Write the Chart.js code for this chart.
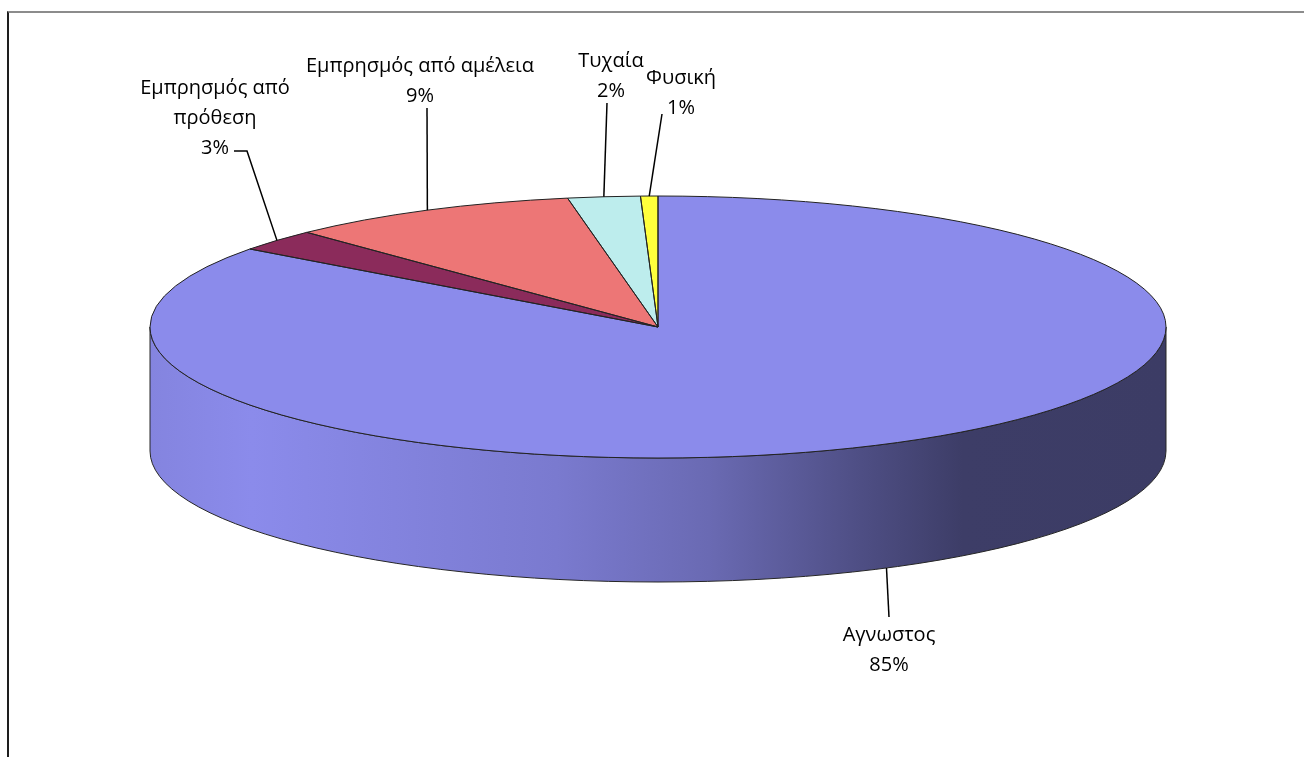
<!DOCTYPE html>
<html>
<head>
<meta charset="utf-8">
<title>Αιτίες πυρκαγιών</title>
<script src="https://cdn.jsdelivr.net/npm/chart.js@4.4.1/dist/chart.umd.min.js"></script>
<style>
  html, body { margin: 0; padding: 0; background: #fff; }
  #wrap { position: relative; width: 1304px; height: 757px; overflow: hidden; }
  #frame { position: absolute; left: 7px; top: 11px; right: -10px; bottom: -10px;
           border-left: 2px solid #1e1e1e; border-top: 2px solid #8c8c8c; }
  canvas { position: absolute; left: 0; top: 0; }
</style>
</head>
<body>
<div id="wrap">
  <div id="frame"></div>
  <canvas id="fires" width="1304" height="757"></canvas>
</div>
<script>
    "use strict";

    // Data (clockwise from 12 o'clock)
    const categories = ["Αγνωστος", "Εμπρησμός από πρόθεση", "Εμπρησμός από αμέλεια", "Τυχαία", "Φυσική"];
    const shares = [85.15, 2.7, 9.3, 2.3, 0.55];
    const sliceColors = ["#8b8beb", "#8b2b5b", "#ed7676", "#bdeded", "#ffff3c"];

    // Ellipse geometry of the 3d pie on the page
    const PIE = { cx: 658, cy: 327, rx: 508, ry: 131, depth: 124 };

    // Label placement (center of first line) and where the leader line stops
    const labelLayout = [
        { x: 889, y: 635, wrap: 0,  end: [889, 617] },
        { x: 215, y: 88,  wrap: 13, end: [247, 151], elbow: [234, 151] },
        { x: 420, y: 66,  wrap: 0,  end: [427, 108] },
        { x: 611, y: 61,  wrap: 0,  end: [607, 103] },
        { x: 681, y: 78,  wrap: 0,  end: [662, 114] }
    ];
    const FONT = "20px 'Open Sans', sans-serif";
    const LINE_H = 30;

    function rgb(hex) {
        const n = parseInt(hex.slice(1), 16);
        return [n >> 16 & 255, n >> 8 & 255, n & 255];
    }
    function shade(hex, f) {
        const c = rgb(hex).map(v => Math.max(0, Math.min(255, Math.round(v * f))));
        return "rgb(" + c.join(",") + ")";
    }
    function onEllipse(a, dy) {
        return [PIE.cx + PIE.rx * Math.cos(a), PIE.cy + PIE.ry * Math.sin(a) + (dy || 0)];
    }

    const pie3d = {
        id: "pie3d",
        beforeDatasetsDraw(chart) {
            const ctx = chart.ctx;
            const arcs = chart.getDatasetMeta(0).data;

            // side wall, only the front half (canvas angles 0..PI) shows
            arcs.forEach((arc, i) => {
                const p = arc.getProps(["startAngle", "endAngle"], true);
                [0, 2 * Math.PI].forEach(off => {
                    const a1 = Math.max(p.startAngle, off);
                    const a2 = Math.min(p.endAngle, off + Math.PI);
                    if (a2 <= a1) return;
                    const g = ctx.createLinearGradient(PIE.cx - PIE.rx, 0, PIE.cx + PIE.rx, 0);
                    const col = sliceColors[i];
                    g.addColorStop(0, shade(col, 0.95));
                    g.addColorStop(0.1, shade(col, 1.0));
                    g.addColorStop(0.4, shade(col, 0.88));
                    g.addColorStop(0.55, shade(col, 0.76));
                    g.addColorStop(0.7, shade(col, 0.56));
                    g.addColorStop(0.8, shade(col, 0.44));
                    g.addColorStop(1, shade(col, 0.43));
                    const s = onEllipse(a1), e = onEllipse(a2, PIE.depth);
                    ctx.save();
                    ctx.beginPath();
                    ctx.moveTo(s[0], s[1]);
                    ctx.ellipse(PIE.cx, PIE.cy, PIE.rx, PIE.ry, 0, a1, a2);
                    ctx.lineTo(e[0], e[1]);
                    ctx.ellipse(PIE.cx, PIE.cy + PIE.depth, PIE.rx, PIE.ry, 0, a2, a1, true);
                    ctx.closePath();
                    ctx.fillStyle = g;
                    ctx.fill();
                    ctx.strokeStyle = "#262626";
                    ctx.lineWidth = 1;
                    ctx.stroke();
                    ctx.restore();
                });
            });

            // squash the library's round pie into the top ellipse
            const { x, y, outerRadius } = arcs[0];
            ctx.save();
            ctx.translate(PIE.cx, PIE.cy);
            ctx.scale(PIE.rx / outerRadius, PIE.ry / outerRadius);
            ctx.translate(-x, -y);
        },
        afterDatasetsDraw(chart) {
            const ctx = chart.ctx;
            ctx.restore();
            // slice outlines on the top face
            chart.getDatasetMeta(0).data.forEach(arc => {
                const p = arc.getProps(["startAngle", "endAngle"], true);
                const s = onEllipse(p.startAngle);
                ctx.beginPath();
                ctx.moveTo(PIE.cx, PIE.cy);
                ctx.lineTo(s[0], s[1]);
                ctx.ellipse(PIE.cx, PIE.cy, PIE.rx, PIE.ry, 0, p.startAngle, p.endAngle);
                ctx.closePath();
                ctx.strokeStyle = "#222";
                ctx.lineWidth = 1;
                ctx.stroke();
            });
        },
        afterDraw(chart) {
            const ctx = chart.ctx;
            const total = shares.reduce((a, b) => a + b, 0);
            ctx.save();
            ctx.font = FONT;
            ctx.fillStyle = "#000";
            ctx.textAlign = "center";
            ctx.textBaseline = "middle";
            chart.getDatasetMeta(0).data.forEach((arc, i) => {
                const lay = labelLayout[i];
                const p = arc.getProps(["startAngle", "endAngle"], true);
                const mid = (p.startAngle + p.endAngle) / 2;
                const front = Math.sin(mid) > 0;
                const anchor = onEllipse(mid, front ? PIE.depth : 0);

                // leader line
                ctx.beginPath();
                ctx.moveTo(anchor[0], anchor[1]);
                ctx.lineTo(lay.end[0], lay.end[1]);
                if (lay.elbow) ctx.lineTo(lay.elbow[0], lay.elbow[1]);
                ctx.strokeStyle = "#000";
                ctx.lineWidth = 1.5;
                ctx.stroke();

                // text
                const name = categories[i];
                const lines = lay.wrap ? [name.slice(0, lay.wrap), name.slice(lay.wrap + 1)] : [name];
                lines.push(Math.round(shares[i] / total * 100) + "%");
                lines.forEach((t, k) => ctx.fillText(t, lay.x, lay.y + k * LINE_H));
            });
            ctx.restore();
        }
    };

    const ctx = document.getElementById("fires").getContext("2d");
    const fireChart = new Chart(ctx, {
        type: "pie",
        data: {
            labels: categories,
            datasets: [{
                data: shares,
                backgroundColor: sliceColors,
                borderWidth: 0,
                clip: false
            }]
        },
        options: {
            responsive: false,
            animation: false,
            events: [],
            plugins: {
                legend: { display: false },
                tooltip: { enabled: false }
            }
        },
        plugins: [pie3d]
    });
</script>
</body>
</html>
